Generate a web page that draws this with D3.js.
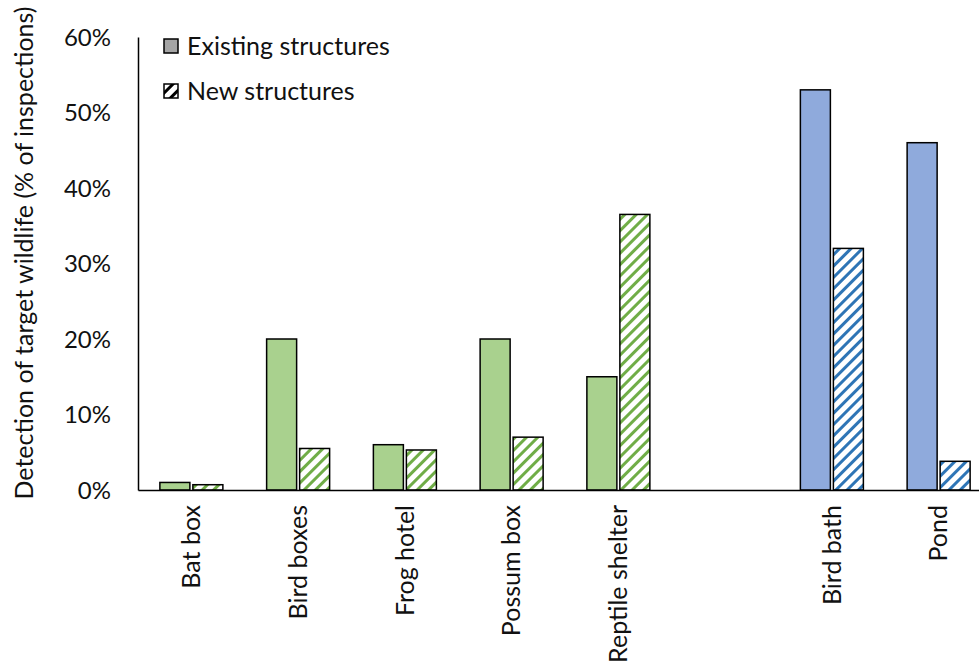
<!DOCTYPE html>
<html>
<head>
<meta charset="utf-8">
<script src="https://cdn.jsdelivr.net/npm/d3@7"></script>
<style>
  body { margin: 0; background: #fff; }
  svg { display: block; }
  text { font-family: Lato, "Open Sans", sans-serif; fill: #111; }
</style>
</head>
<body>
<svg id="chart" width="979" height="669"></svg>
<script>
// Structure types (the blank slot separates the two groups)
const categories = ["Bat box", "Bird boxes", "Frog hotel", "Possum box", "Reptile shelter", "", "Bird bath", "Pond"];
// Detection rates, % of inspections
const existingValues = [1, 20, 6, 20, 15, null, 53, 46];
const newValues = [0.7, 5.5, 5.3, 7, 36.5, null, 32, 3.8];
// Colour group per category
const groups = ["green", "green", "green", "green", "green", null, "blue", "blue"];
const yTicks = [0, 10, 20, 30, 40, 50, 60];
const seriesNames = ["Existing structures", "New structures"];

const palette = {
  green: { fill: "#a9d18e", hatch: "#70ad47" },
  blue: { fill: "#8faadc", hatch: "#2e75b6" }
};
const fontSize = "25px";
const tickFontSize = "24px";
const fontFamily = "Lato, 'Open Sans', sans-serif";

const svg = d3.select("#chart");
const margin = { left: 138, top: 37, bottom: 490, right: 992 };

const x = d3.scaleBand().domain(categories).range([margin.left, margin.right]).padding(0);
const y = d3.scaleLinear().domain([0, 60]).range([margin.bottom, margin.top]);

// Hatch patterns
const defs = svg.append("defs");
function hatch(id, color, bg) {
  const p = defs.append("pattern")
    .attr("id", id)
    .attr("patternUnits", "userSpaceOnUse")
    .attr("width", 8).attr("height", 8)
    .attr("patternTransform", "rotate(45)");
  p.append("rect").attr("width", 8).attr("height", 8).attr("fill", bg);
  p.append("rect").attr("x", 0).attr("y", 0).attr("width", 3).attr("height", 8).attr("fill", color);
}
hatch("hatch-green", palette.green.hatch, "#fff");
hatch("hatch-blue", palette.blue.hatch, "#fff");
hatch("hatch-black", "#000", "#fff");

// Y axis
const yAxis = d3.axisLeft(y).tickValues(yTicks).tickSize(0).tickPadding(0).tickFormat(d => d + "%");
const gy = svg.append("g").attr("transform", `translate(${margin.left},0)`).call(yAxis);
gy.select(".domain").attr("stroke", "#000").attr("stroke-width", 1.5);
gy.selectAll("text")
  .attr("x", -27)
  .attr("dy", "0.35em")
  .style("font-size", tickFontSize)
  .style("font-family", fontFamily)
  .attr("fill", "#111");

// Bars
const barW = 30, gap = 3;
const barData = [];
categories.forEach((c, i) => {
  if (existingValues[i] == null) return;
  const cx = x(c) + x.bandwidth() / 2;
  barData.push({ x0: cx - gap / 2 - barW, v: existingValues[i], fill: palette[groups[i]].fill });
  barData.push({ x0: cx + gap / 2, v: newValues[i], fill: `url(#hatch-${groups[i]})` });
});

svg.append("g").selectAll("rect").data(barData).join("rect")
  .attr("x", d => d.x0)
  .attr("y", d => y(d.v))
  .attr("width", barW)
  .attr("height", d => y(0) - y(d.v))
  .attr("fill", d => d.fill)
  .attr("stroke", "#000")
  .attr("stroke-width", 1.5);

// X axis
const xAxis = d3.axisBottom(x).tickSize(0).tickPadding(0);
const gx = svg.append("g").attr("transform", `translate(0,${y(0)})`).call(xAxis);
gx.select(".domain").attr("stroke", "#000").attr("stroke-width", 1.5);
gx.selectAll("text")
  .attr("transform", "rotate(-90)")
  .attr("x", -15)
  .attr("y", 0)
  .attr("dy", "0.35em")
  .style("text-anchor", "end")
  .style("font-size", fontSize)
  .style("font-family", fontFamily)
  .attr("fill", "#111");

// Y axis title
svg.append("text")
  .attr("transform", "translate(33,253) rotate(-90)")
  .attr("text-anchor", "middle")
  .style("font-size", fontSize)
  .text("Detection of target wildlife (% of inspections)");

// Legend
const legend = svg.append("g").attr("transform", "translate(164,46)");
const legendFills = ["#a5a5a5", "url(#hatch-black)"];
seriesNames.forEach((name, i) => {
  const g = legend.append("g").attr("transform", `translate(0,${i * 45})`);
  g.append("rect").attr("x", 0).attr("y", -7).attr("width", 14).attr("height", 14)
    .attr("fill", legendFills[i]).attr("stroke", "#000").attr("stroke-width", 1.5);
  g.append("text").attr("x", 23).attr("y", 0).attr("dy", "0.35em")
    .style("font-size", fontSize).text(name);
});
</script>
</body>
</html>
